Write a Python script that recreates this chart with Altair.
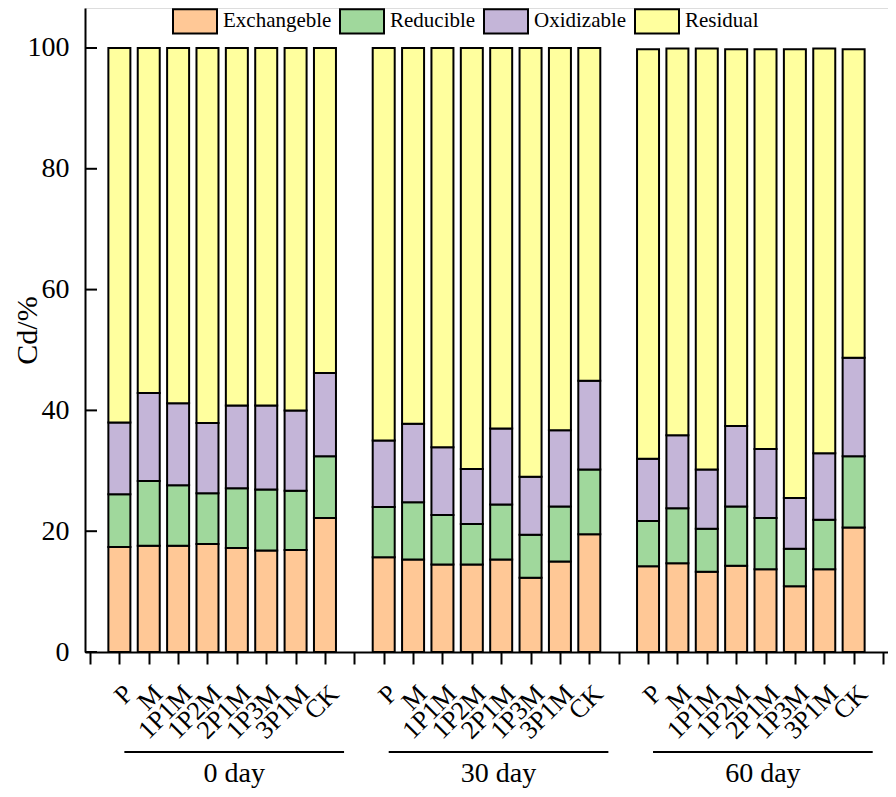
import json
import altair as alt
import pandas as pd

treatments = ["P", "M", "1P1M", "1P2M", "2P1M", "1P3M", "3P1M", "CK"]
days = ["0 day", "30 day", "60 day"]
fractions = ["Exchangeble", "Reducible", "Oxidizable", "Residual"]
colors = ["#FFC896", "#A0D89C", "#C4B5D8", "#FFFF9E"]

# values (%) per day, in treatment order
exchangeable = {
    "0 day": [17.4, 17.6, 17.6, 17.9, 17.2, 16.8, 16.9, 22.2],
    "30 day": [15.7, 15.3, 14.5, 14.5, 15.3, 12.3, 15.0, 19.5],
    "60 day": [14.2, 14.7, 13.3, 14.3, 13.7, 10.9, 13.7, 20.6],
}
reducible = {
    "0 day": [8.7, 10.7, 10.0, 8.4, 9.9, 10.1, 9.8, 10.2],
    "30 day": [8.3, 9.5, 8.2, 6.7, 9.1, 7.1, 9.1, 10.7],
    "60 day": [7.5, 9.1, 7.1, 9.8, 8.5, 6.2, 8.2, 11.8],
}
oxidizable = {
    "0 day": [11.9, 14.6, 13.6, 11.6, 13.7, 13.9, 13.3, 13.8],
    "30 day": [11.0, 13.0, 11.2, 9.1, 12.6, 9.6, 12.6, 14.7],
    "60 day": [10.3, 12.1, 9.8, 13.3, 11.4, 8.4, 11.0, 16.3],
}
residual = {
    "0 day": [62.0, 57.1, 58.8, 62.1, 59.2, 59.2, 60.0, 53.8],
    "30 day": [65.0, 62.2, 66.1, 69.7, 63.0, 71.0, 63.3, 55.1],
    "60 day": [67.8, 64.0, 69.7, 62.4, 66.2, 74.3, 67.0, 51.1],
}
y_ticks = [0, 20, 40, 60, 80, 100]

series = [exchangeable, reducible, oxidizable, residual]
rows = []
pos_labels = [""] * 28
groups = []
for g, day in enumerate(days):
    start = 1 + g * 9
    for i, t in enumerate(treatments):
        pos = start + i
        pos_labels[pos] = t
        for k, frac in enumerate(fractions):
            rows.append({"pos": pos, "treatment": t, "day": day,
                         "fraction": frac, "order": k,
                         "value": series[k][day][i]})
    groups.append({"day": day, "start": start + 0.17, "end": start + 7.65,
                   "mid": start + 3.91})
df = pd.DataFrame(rows)
gdf = pd.DataFrame(groups)
tdf = pd.DataFrame({"t": y_ticks})

FONT = "Liberation Serif"
label_expr = json.dumps(pos_labels) + "[datum.value]"

xscale = alt.Scale(domain=[0, 27], nice=False, zero=False)
yscale = alt.Scale(domain=[0, 106.62], nice=False)
xaxis = alt.Axis(values=list(range(28)), labelExpr=label_expr, labelAngle=-45,
                 labelAlign="right", labelBaseline="top", labelPadding=16,
                 labelFont=FONT, labelFontSize=26, labelColor="black",
                 labelOverlap=False, labelFlush=False, tickSize=12,
                 tickWidth=2, tickColor="black", domainColor="black",
                 domainWidth=2, grid=False, title=None)
yaxis = alt.Axis(values=y_ticks, ticks=False, labelPadding=16, labelFont=FONT,
                 labelFontSize=28, labelColor="black", domainColor="black",
                 domainWidth=2, grid=False, title="Cd/%", titleFont=FONT,
                 titleFontSize=30, titleFontWeight="normal", titleColor="black",
                 titleX=-58, titleAlign="center", titleBaseline="middle",
                 titleAngle=270)

bars = alt.Chart(df).mark_bar(size=22, stroke="black", strokeWidth=2).encode(
    x=alt.X("pos:Q", scale=xscale, axis=xaxis),
    y=alt.Y("value:Q", stack="zero", scale=yscale, axis=yaxis),
    color=alt.Color("fraction:N", scale=alt.Scale(domain=fractions, range=colors),
                    legend=alt.Legend(orient="none", legendX=87, legendY=-10,
                                      direction="horizontal", title=None,
                                      symbolType="M-1,-0.55H1V0.55H-1Z",
                                      symbolSize=1936, symbolStrokeColor="black",
                                      symbolStrokeWidth=2, symbolOpacity=1,
                                      labelFont=FONT, labelFontSize=21,
                                      labelColor="black", labelOffset=5,
                                      columnPadding=4, padding=0, labelLimit=0)),
    order=alt.Order("order:Q"),
)

yticks = alt.Chart(tdf).mark_rule(color="black", strokeWidth=2).encode(
    y=alt.Y("t:Q", scale=yscale, axis=yaxis),
    x=alt.value(0), x2=alt.value(12),
)

glines = alt.Chart(gdf).mark_rule(color="black", strokeWidth=2).encode(
    x=alt.X("start:Q", scale=xscale, axis=xaxis), x2="end:Q",
    y=alt.value(744),
)
gtext = alt.Chart(gdf).mark_text(font=FONT, fontSize=28, baseline="alphabetic",
                                 color="black").encode(
    x=alt.X("mid:Q", scale=xscale, axis=xaxis),
    y=alt.value(774), text="day:N",
)

chart = alt.layer(bars, yticks, glines, gtext).properties(
    width=803, height=644,
    autosize=alt.AutoSizeParams(type="none"),
    padding={"left": 77, "top": 0, "right": 0, "bottom": 137},
).configure_view(stroke="black", strokeWidth=2).configure(background="white")

chart.save("out.html", embed_options={"renderer": "svg", "actions": False})
